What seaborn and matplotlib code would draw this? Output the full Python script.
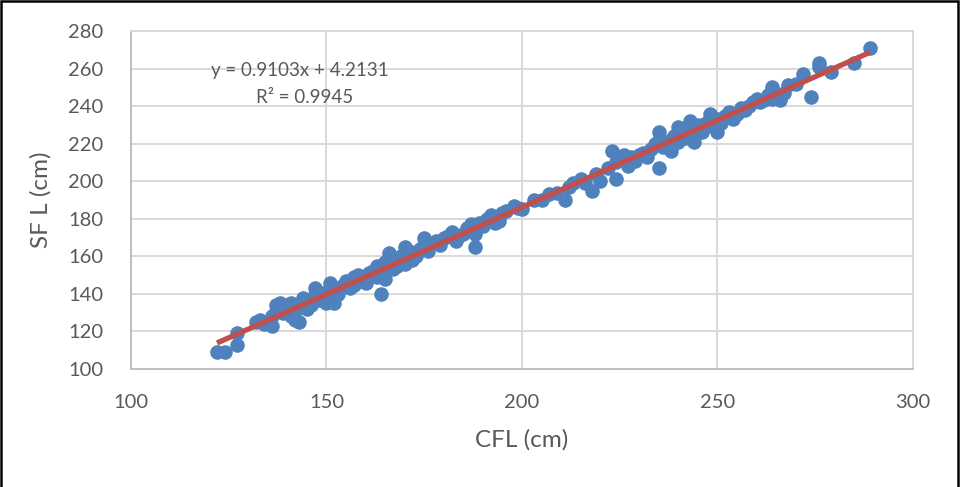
import matplotlib
matplotlib.use("Agg")
import matplotlib.pyplot as plt
import seaborn as sns
import pandas as pd
from matplotlib.patches import Rectangle

cfl = [122, 124, 127, 127, 132, 133, 134, 136, 136, 137, 137, 138, 139, 139, 140, 141, 141, 142, 142, 143,
       143, 144, 144, 145, 145, 146, 147, 147, 148, 149, 150, 150, 151, 151, 152, 152, 153, 154, 155, 155,
       156, 157, 157, 158, 159, 160, 160, 161, 162, 163, 163, 164, 164, 165, 165, 166, 166, 167, 168, 168,
       169, 170, 170, 171, 172, 173, 174, 175, 175, 176, 177, 178, 179, 180, 181, 182, 183, 184, 185, 186,
       187, 188, 188, 189, 190, 191, 192, 193, 194, 195, 196, 198, 199, 200, 203, 205, 207, 209, 211, 212,
       213, 215, 216, 218, 219, 220, 222, 223, 224, 224, 225, 226, 227, 228, 229, 230, 231, 232, 233, 234,
       235, 235, 235, 236, 237, 238, 238, 239, 240, 240, 241, 242, 242, 243, 243, 244, 245, 246, 247, 248,
       249, 250, 250, 251, 252, 253, 254, 255, 256, 257, 258, 259, 260, 261, 262, 263, 264, 264, 266, 267,
       268, 270, 272, 274, 276, 276, 279, 285, 289]
sfl = [109, 109, 113, 119, 125, 126, 124, 123, 128, 131, 134, 135, 130, 133, 134, 128, 135, 126, 131, 125,
       133, 136, 138, 132, 137, 134, 140, 143, 137, 139, 135, 141, 146, 138, 143, 135, 140, 144, 146, 147,
       143, 149, 145, 150, 147, 148, 146, 151, 152, 149, 155, 140, 154, 148, 157, 156, 162, 153, 158, 155,
       160, 156, 165, 163, 158, 160, 164, 170, 166, 163, 167, 168, 166, 170, 171, 173, 168, 171, 172, 175,
       177, 165, 172, 178, 176, 180, 182, 178, 179, 183, 184, 187, 186, 185, 190, 190, 193, 194, 190, 197,
       199, 201, 199, 195, 204, 200, 207, 216, 201, 210, 212, 214, 208, 213, 211, 214, 215, 213, 217, 220,
       207, 226, 222, 218, 219, 216, 222, 224, 229, 221, 226, 223, 228, 232, 225, 221, 230, 226, 231, 236,
       229, 226, 233, 231, 235, 237, 233, 236, 239, 238, 240, 242, 244, 242, 243, 246, 250, 244, 243, 247,
       251, 252, 257, 245, 263, 261, 258, 263, 271]

eq_text = "y = 0.9103x + 4.2131"
r2_text = "R² = 0.9945"
x_ticks = [100, 150, 200, 250, 300]
y_ticks = [100, 120, 140, 160, 180, 200, 220, 240, 260, 280]

df = pd.DataFrame({"CFL (cm)": cfl, "SF L (cm)": sfl})

sns.set_theme(style="white")
plt.rcParams["font.family"] = ["Lato", "DejaVu Sans"]

txt = "#595959"
grid = "#D9D9D9"

fig = plt.figure(figsize=(9.61, 4.87), dpi=100)
ax = fig.add_axes([0.1363, 0.2423, 0.8137, 0.694])

sns.regplot(data=df, x="CFL (cm)", y="SF L (cm)", ax=ax, ci=None,
            scatter_kws=dict(s=110, color="#4F81BD", alpha=1, linewidths=0, zorder=3),
            line_kws=dict(color="#C0504D", lw=3.8, zorder=4, solid_capstyle="butt"))

ax.set_xlim(100, 300)
ax.set_ylim(100, 280)
ax.set_xticks(x_ticks)
ax.set_yticks(y_ticks)
ax.grid(True, color=grid, lw=1.4, zorder=0)
ax.set_axisbelow(True)
for s in ax.spines.values():
    s.set_color(grid)
    s.set_linewidth(1.4)
ax.spines["left"].set_color("#BFBFBF")
ax.spines["bottom"].set_color("#BFBFBF")
ax.tick_params(axis="both", colors=txt, labelsize=14.5, length=0)
ax.tick_params(axis="x", pad=18)
ax.tick_params(axis="y", pad=20)
ax.set_xlabel("CFL (cm)", color=txt, fontsize=17.5, labelpad=13)
ax.set_ylabel("SF L (cm)", color=txt, fontsize=17.5, labelpad=12)

ax.text(143.3, 259.2, eq_text, ha="center", va="center", color=txt, fontsize=13.5)
ax.text(144.5, 244.8, r2_text, ha="center", va="center", color=txt, fontsize=13.5)

fig.patches.append(Rectangle((0.0015, -0.2), 0.9955, 1.1975, transform=fig.transFigure,
                             fill=False, edgecolor="black", lw=1.8))

fig.savefig("out.png", dpi=100)
